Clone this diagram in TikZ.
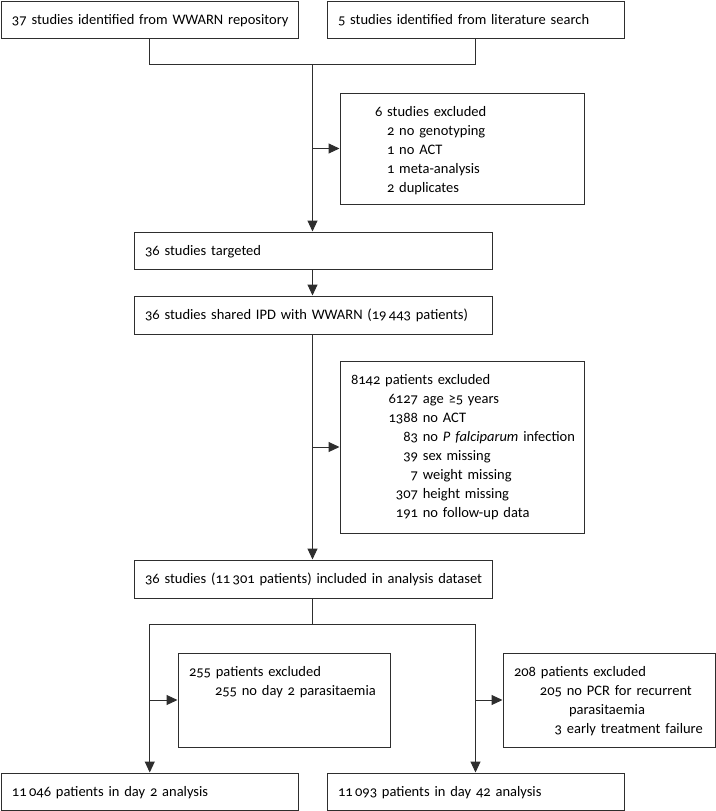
\documentclass[tikz,border=0pt]{standalone}
\usepackage{fontspec}
\setmainfont{Carlito}[Numbers=OldStyle]
\usetikzlibrary{arrows.meta}
\definecolor{linegray}{HTML}{2E2E2E}

\begin{document}
\begin{tikzpicture}[x=1pt, y=-1pt,
    box/.style={draw=linegray, line width=1pt, anchor=north west, inner sep=0pt,
      align=left, text height=23pt, text depth=14pt,
      font=\fontsize{14.5}{19}\selectfont,
      execute at begin node={\leftskip=11pt}},
    link/.style={draw=linegray, line width=1pt},
    arr/.style={link, -{Triangle[length=11pt, width=10pt]}}]
    \useasboundingbox (0,0) rectangle (715,811);

    % 两个来源
    \node[box, text width=297.5pt] (wwarn) at (0.5,0.5) {37 studies identified from WWARN repository};
    \node[box, text width=297pt] (litsearch) at (326.5,0.5) {5 studies identified from literature search};

    % 研究排除
    \node[box, text width=244pt, text depth=88pt] (studyexcl) at (339.5,92.5) {\hspace*{24pt}6 studies excluded\\
      \hspace*{36pt}2 no genotyping\\
      \hspace*{36pt}1 no ACT\\
      \hspace*{36pt}1 meta-analysis\\
      \hspace*{36pt}2 duplicates};

    % 中间的三个框
    \node[box, text width=358pt] (targeted) at (133.5,231.5) {36 studies targeted};
    \node[box, text width=358pt, text depth=15pt] (shared) at (133.5,295.5) {36 studies shared IPD with WWARN (19\,443 patients)};
    \node[box, text width=358pt, text depth=15pt] (analysis) at (133.5,559.5) {36 studies (11\,301 patients) included in analysis dataset};

    % 患者排除
    \node[box, text width=244pt, text depth=149pt] (patexcl) at (339.5,360.5) {8142 patients excluded\\
      \makebox[67pt][r]{6127} age ≥5 years\\
      \makebox[67pt][r]{1388} no ACT\\
      \makebox[67pt][r]{83} no \textit{P falciparum} infection\\
      \makebox[67pt][r]{39} sex missing\\
      \makebox[67pt][r]{7} weight missing\\
      \makebox[67pt][r]{307} height missing\\
      \makebox[67pt][r]{191} no follow-up data};

    % 两个分析的排除
    \node[box, text width=212pt, text depth=71pt] (dayexcl) at (177.5,652.5) {255 patients excluded\\
      \hspace*{26pt}255 no day 2 parasitaemia};
    \node[box, text width=212pt, text depth=71pt] (pcrexcl) at (502.5,652.5) {208 patients excluded\\
      \makebox[48pt][r]{205} no PCR for recurrent\\
      \hspace*{55pt}parasitaemia\\
      \makebox[48pt][r]{3} early treatment failure};

    % 最终分析
    \node[box, text width=297.5pt] (daytwo) at (0.5,772.5) {11\,046 patients in day 2 analysis};
    \node[box, text width=297pt] (dayfortytwo) at (326.5,772.5) {11\,093 patients in day 42 analysis};

    % 连接线
    \coordinate (merge) at (312.5,64.5);
    \draw[link] (wwarn.south) |- (merge) -| (litsearch.south);
    \draw[arr] (merge) -- (merge |- targeted.north);
    \draw[arr] (merge |- studyexcl.west) -- (studyexcl.west);
    \draw[arr] (merge |- targeted.south) -- (merge |- shared.north);
    \draw[arr] (merge |- shared.south) -- (merge |- analysis.north);
    \draw[arr] (merge |- patexcl.west) -- (patexcl.west);

    \coordinate (split) at (312.5,624.5);
    \draw[link] (split |- analysis.south) -- (split);
    \draw[arr] (split) -| (daytwo.north);
    \draw[arr] (split) -| (dayfortytwo.north);
    \draw[arr] (daytwo.north |- dayexcl.west) -- (dayexcl.west);
    \draw[arr] (dayfortytwo.north |- pcrexcl.west) -- (pcrexcl.west);
\end{tikzpicture}
\end{document}
